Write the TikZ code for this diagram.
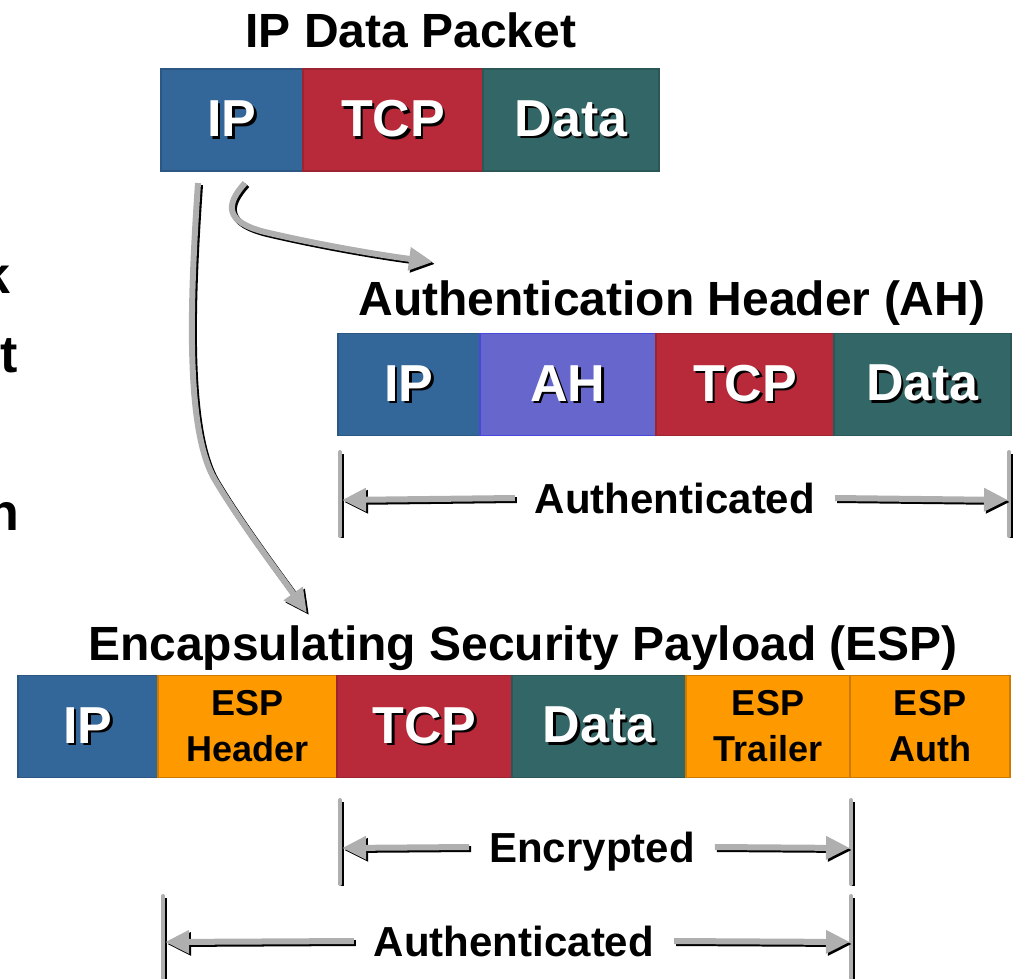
\documentclass[tikz,border=0pt]{standalone}
\usepackage{fontspec}
\setmainfont{Liberation Sans}
\usetikzlibrary{
  positioning,
  arrows.meta
}
\definecolor{ipblue}{RGB}{51,102,153}
\definecolor{tcpred}{RGB}{184,42,58}
\definecolor{datateal}{RGB}{51,102,102}
\definecolor{ahpurple}{RGB}{102,102,204}
\definecolor{esporange}{RGB}{255,153,0}
\definecolor{arrowgray}{RGB}{175,175,175}
\newcommand{\shtext}[1]{\makebox[0pt][l]{\kern2.5pt\raisebox{-2.5pt}{\color{black}#1}}#1}
\tikzset{
  field/.style={
    draw,
    line width=1.5pt,
    minimum height=102pt,
    inner sep=0pt,
    outer sep=0pt,
    text=white,
    font=\fontsize{52}{60}\selectfont\bfseries
  },
  ipbox/.style={field, fill=ipblue, draw=ipblue!85!black},
  tcpbox/.style={field, fill=tcpred, draw=tcpred!85!black},
  databox/.style={field, fill=datateal, draw=datateal!85!black},
  ahbox/.style={field, fill=ahpurple, draw=ahpurple!70!blue},
  espbox/.style={
    field,
    fill=esporange,
    draw=esporange!80!black,
    text=black,
    align=center,
    font=\fontsize{36}{46}\selectfont\bfseries
  },
  title/.style={
    anchor=base,
    inner sep=0pt,
    font=\fontsize{48}{56}\selectfont\bfseries
  },
  fragment/.style={
    anchor=base east,
    inner sep=0pt,
    font=\fontsize{52}{60}\selectfont\bfseries
  },
  spanlabel/.style={
    inner xsep=20pt,
    inner ysep=0pt,
    text height=30pt,
    text depth=0pt,
    font=\fontsize{42}{50}\selectfont\bfseries
  },
  shadowed/.style={
    preaction={
      draw=black,
      line width=#1,
      transform canvas={shift={(2pt,-2pt)}}
    }
  },
  grayarrow/.style={
    shadowed=6pt,
    draw=arrowgray,
    line width=6pt,
    -{Triangle[length=24pt,width=22pt]}
  },
  spanbar/.style={
    shadowed=4pt,
    draw=arrowgray,
    line width=4pt,
    line cap=round
  }
}

\begin{document}
\begin{tikzpicture}[x=1pt, y=-1pt]
  \useasboundingbox (0,0) rectangle (1018,978);

  % cut-off words at the left edge
  \node[fragment] (fragK) at (11,293) {k};
  \node[fragment] (fragT) at (18,372) {t};
  \node[fragment] (fragN) at (19,530) {n};

  % original packet
  \node[title] (pTitle) at (411,47) {IP Data Packet};
  \node[ipbox, minimum width=142pt] (pIP) at (232,120) {\shtext{IP}};
  \node[tcpbox, minimum width=180pt, right=0pt of pIP] (pTCP) {\shtext{TCP}};
  \node[databox, minimum width=176pt, right=0pt of pTCP] (pData) {\shtext{Data}};

  % AH packet
  \node[title] (ahTitle) at (672,315) {Authentication Header (AH)};
  \node[ipbox, minimum width=142pt] (ahIP) at (409,384.5) {\shtext{IP}};
  \node[ahbox, minimum width=176pt, right=0pt of ahIP] (ahAH) {\shtext{AH}};
  \node[tcpbox, minimum width=178pt, right=0pt of ahAH] (ahTCP) {\shtext{TCP}};
  \node[databox, minimum width=177pt, right=0pt of ahTCP] (ahData) {\shtext{Data}};

  \draw[spanbar] (340,452) -- (340,536);
  \draw[spanbar] (1009,452) -- (1009,536);
  \coordinate (ahL) at (342,500);
  \coordinate (ahR) at (1008,500);
  \node[spanlabel] (ahAuth) at (675,498) {Authenticated};
  \draw[grayarrow] (ahAuth.west) -- (ahL);
  \draw[grayarrow] (ahAuth.east) -- (ahR);

  % ESP packet
  \node[title] (espTitle) at (523,660) {Encapsulating Security Payload (ESP)};
  \node[ipbox, minimum width=140pt] (espIP) at (88,726.5) {\shtext{IP}};
  \node[espbox, minimum width=179pt, right=0pt of espIP] (espHead) {ESP\\Header};
  \node[tcpbox, minimum width=175pt, right=0pt of espHead] (espTCP) {\shtext{TCP}};
  \node[databox, minimum width=174pt, right=0pt of espTCP] (espData) {\shtext{Data}};
  \node[espbox, minimum width=164pt, right=0pt of espData] (espTrail) {ESP\\Trailer};
  \node[espbox, minimum width=160pt, right=0pt of espTrail] (espAuth) {ESP\\Auth};

  \draw[spanbar] (340,800) -- (340,884);
  \draw[spanbar] (851,800) -- (851,884);
  \coordinate (encL) at (342,848);
  \coordinate (encR) at (850,848);
  \node[spanlabel] (encLabel) at (592,847) {Encrypted};
  \draw[grayarrow] (encLabel.west) -- (encL);
  \draw[grayarrow] (encLabel.east) -- (encR);

  \draw[spanbar] (163,896) -- (163,990);
  \draw[spanbar] (851,896) -- (851,990);
  \coordinate (espAuL) at (165,942);
  \coordinate (espAuR) at (850,942);
  \node[spanlabel] (espAuLabel) at (514,941) {Authenticated};
  \draw[grayarrow] (espAuLabel.west) -- (espAuL);
  \draw[grayarrow] (espAuLabel.east) -- (espAuR);

  % curved arrows from the IP header
  \coordinate (ahTip) at (433,262);
  \coordinate (espTip) at (307,613);
  \draw[grayarrow] ([shift={(13pt,-12pt)}]pIP.south)
    .. controls (225,205) and (225,222) .. (265,232)
    .. controls (320,245) and (380,255) .. (ahTip);
  \draw[grayarrow] ([shift={(-34pt,-12pt)}]pIP.south)
    .. controls (190,300) and (185,430) .. (215,480)
    .. controls (240,522) and (280,575) .. (espTip);
\end{tikzpicture}
\end{document}
